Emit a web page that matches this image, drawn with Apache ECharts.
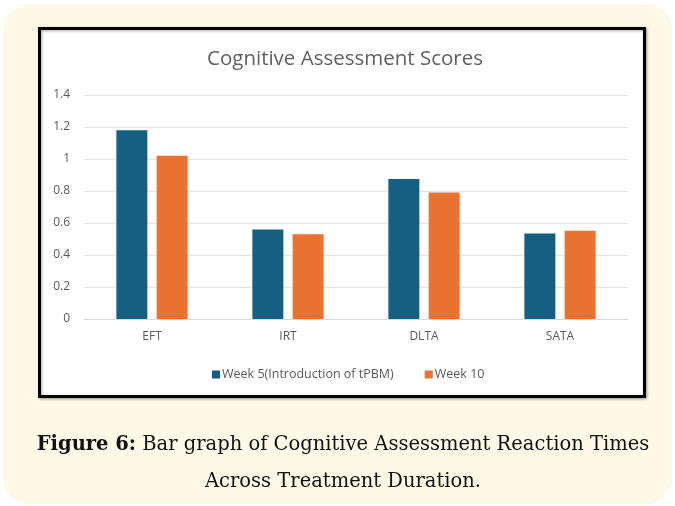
<!DOCTYPE html>
<html>
<head>
<meta charset="utf-8">
<script src="https://cdn.jsdelivr.net/npm/echarts@6/dist/echarts.min.js"></script>
<style>
  html, body { margin: 0; padding: 0; background: #fff; }
  #chart { width: 675px; height: 506px; }
</style>
</head>
<body>
<div id="chart"></div>
<script>
const categories = ["EFT", "IRT", "DLTA", "SATA"];
const week5 = [1.18, 0.56, 0.875, 0.535];
const week10 = [1.02, 0.53, 0.79, 0.552];
const seriesNames = ["Week 5(Introduction of tPBM)", "Week 10"];
const yTicks = { min: 0, max: 1.4, step: 0.2 };

const myChart = echarts.init(document.getElementById("chart"));

myChart.setOption({
  backgroundColor: "#fff",
  animation: false,
  graphic: [
    // pale yellow card behind everything
    {
      type: "rect",
      z: -10,
      shape: { x: 3, y: 4, width: 669, height: 500, r: 26 },
      style: { fill: "#fef9e6" }
    },
    // white chart panel with the black frame
    {
      type: "rect",
      z: -5,
      shape: { x: 39.5, y: 28.5, width: 605, height: 368 },
      style: {
        fill: "#fff",
        stroke: "#000",
        lineWidth: 3,
        shadowColor: "rgba(0,0,0,0.35)",
        shadowBlur: 3,
        shadowOffsetX: 1,
        shadowOffsetY: 1
      }
    }
  ],
  title: [
    {
      text: "Cognitive Assessment Scores",
      left: 340,
      top: 44,
      textAlign: "center",
      textStyle: {
        fontFamily: "Open Sans",
        fontWeight: "normal",
        fontSize: 20.5,
        color: "#5f5f5f"
      }
    },
    {
      text: "{b|Figure 6:} Bar graph of Cognitive Assessment Reaction Times\nAcross Treatment Duration.",
      left: 338,
      top: 421,
      textAlign: "center",
      textStyle: {
        fontFamily: "DejaVu Serif",
        fontWeight: "normal",
        fontSize: 19.5,
        lineHeight: 37,
        color: "#111",
        rich: {
          b: { fontFamily: "DejaVu Serif", fontWeight: "bold", fontSize: 19.5, color: "#111" }
        }
      }
    }
  ],
  legend: {
    data: seriesNames,
    left: 207,
    top: 363,
    itemWidth: 8,
    itemHeight: 8,
    itemGap: 31,
    icon: "rect",
    textStyle: { fontFamily: "Open Sans", fontSize: 12.5, color: "#595959", padding: [0, 0, 0, -3] }
  },
  grid: {
    left: 84,
    right: 47,
    top: 95,
    bottom: 187,
    containLabel: false
  },
  xAxis: {
    type: "category",
    data: categories,
    axisLine: { show: true, lineStyle: { color: "#d9d9d9" } },
    axisTick: { show: false },
    axisLabel: { fontFamily: "Open Sans", fontSize: 12, color: "#595959", margin: 12 }
  },
  yAxis: {
    type: "value",
    min: yTicks.min,
    max: yTicks.max,
    interval: yTicks.step,
    axisLine: { show: false },
    axisTick: { show: false },
    splitLine: { lineStyle: { color: "#e3e3e3" } },
    axisLabel: {
      fontFamily: "Open Sans",
      fontSize: 12,
      color: "#595959",
      margin: 14,
      formatter: v => String(Math.round(v * 10) / 10)
    }
  },
  series: [
    {
      name: seriesNames[0],
      type: "bar",
      data: week5,
      barWidth: 31,
      barGap: "30%",
      itemStyle: { color: "#156082" }
    },
    {
      name: seriesNames[1],
      type: "bar",
      data: week10,
      barWidth: 31,
      barGap: "30%",
      itemStyle: { color: "#e97132" }
    }
  ]
});
</script>
</body>
</html>
